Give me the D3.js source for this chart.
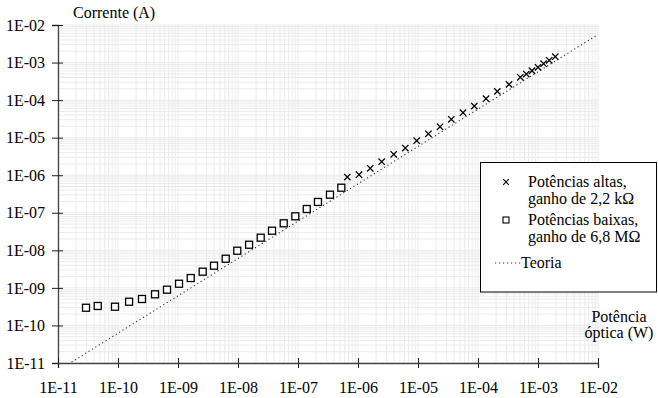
<!DOCTYPE html>
<html>
<head>
<meta charset="utf-8">
<script src="https://cdn.jsdelivr.net/npm/d3@7"></script>
<style>
  body { margin: 0; background: #fff; }
</style>
</head>
<body>
<svg width="658" height="398"></svg>
<script>
// data
const decades = [1e-11, 1e-10, 1e-9, 1e-8, 1e-7, 1e-6, 1e-5, 1e-4, 1e-3, 1e-2];
const tickLabels = ["1E-11", "1E-10", "1E-09", "1E-08", "1E-07", "1E-06", "1E-05", "1E-04", "1E-03", "1E-02"];

// potencias baixas (squares)
const lowP = [2.93e-11, 4.59e-11, 8.91e-11, 1.53e-10, 2.51e-10, 4.14e-10, 6.56e-10, 1.04e-9, 1.63e-9, 2.58e-9,
  3.98e-9, 6.24e-9, 9.73e-9, 1.53e-8, 2.39e-8, 3.69e-8, 5.78e-8, 9.02e-8, 1.40e-7, 2.15e-7, 3.41e-7, 5.27e-7];
const lowI = [2.96e-10, 3.30e-10, 3.15e-10, 4.28e-10, 5.06e-10, 6.75e-10, 8.95e-10, 1.29e-9, 1.83e-9, 2.70e-9,
  3.90e-9, 5.98e-9, 9.77e-9, 1.41e-8, 2.17e-8, 3.33e-8, 5.24e-8, 8.05e-8, 1.26e-7, 1.94e-7, 3.03e-7, 4.65e-7];

// potencias altas (crosses)
const highP = [6.63e-7, 1.04e-6, 1.60e-6, 2.48e-6, 3.94e-6, 6.14e-6, 9.51e-6, 1.49e-5, 2.33e-5, 3.59e-5, 5.62e-5,
  8.68e-5, 1.36e-4, 2.10e-4, 3.29e-4, 5.07e-4, 6.38e-4, 7.94e-4, 1.0e-3, 1.24e-3, 1.54e-3, 1.94e-3];
const highI = [8.95e-7, 1.03e-6, 1.53e-6, 2.29e-6, 3.60e-6, 5.30e-6, 8.30e-6, 1.27e-5, 1.95e-5, 3.08e-5, 4.61e-5,
  6.95e-5, 1.09e-4, 1.71e-4, 2.63e-4, 4.04e-4, 4.94e-4, 6.05e-4, 7.46e-4, 9.31e-4, 1.15e-3, 1.43e-3];

// teoria (straight line)
const theoryP = [1e-11, 1e-2];
const theoryI = [6.3e-12, 5.6e-3];

const serif = "Liberation Serif, DejaVu Serif, serif";
const svg = d3.select("svg");
const x0 = 58, x1 = 598, y0 = 25, y1 = 363;

const x = d3.scaleLog().domain([1e-11, 1e-2]).range([x0, x1]);
const y = d3.scaleLog().domain([1e-11, 1e-2]).range([y1, y0]);

// minor grid values: 1..9 for each decade
const gridVals = [];
decades.forEach(d => {
  for (let k = 1; k < 10; k++) if (d * k <= 1e-2 * 1.0001) gridVals.push(d * k);
});

const grid = svg.append("g").attr("stroke", "#ebebeb").attr("stroke-width", 1);
grid.selectAll(".gv").data(gridVals).join("line").attr("class", "gv")
  .attr("x1", d => x(d)).attr("x2", d => x(d))
  .attr("y1", y0).attr("y2", y1);
grid.selectAll(".gh").data(gridVals).join("line").attr("class", "gh")
  .attr("y1", d => y(d)).attr("y2", d => y(d))
  .attr("x1", x0).attr("x2", x1);

// clip for the theory line
svg.append("clipPath").attr("id", "plot")
  .append("rect").attr("x", x0).attr("y", y0).attr("width", x1 - x0).attr("height", y1 - y0);

const line = d3.line().x(d => x(d[0])).y(d => y(d[1]));
svg.append("path")
  .datum(theoryP.map((p, i) => [p, theoryI[i]]))
  .attr("clip-path", "url(#plot)")
  .attr("fill", "none")
  .attr("stroke", "#333")
  .attr("stroke-width", 1.1)
  .attr("stroke-dasharray", "1.2,2.8")
  .attr("d", line);

// axes
const fmt = d => tickLabels[decades.indexOf(d)];
const yAxis = svg.append("g")
  .attr("transform", "translate(" + x0 + ",0)")
  .call(d3.axisLeft(y).tickValues(decades).tickFormat(fmt).tickSize(6).tickPadding(7));
yAxis.selectAll(".tick line").attr("x1", 5);
const xAxis = svg.append("g")
  .attr("transform", "translate(0," + y1 + ")")
  .call(d3.axisBottom(x).tickValues(decades).tickFormat(fmt).tickSize(5).tickPadding(14));
xAxis.selectAll(".tick line").attr("y1", -5);

[yAxis, xAxis].forEach(a => {
  a.attr("font-family", serif).attr("font-size", 16);
  a.select(".domain").attr("stroke", "#444").attr("stroke-width", 1.3);
  a.selectAll(".tick line").attr("stroke", "#222");
  a.selectAll("text").attr("fill", "#000");
});

// markers
svg.append("g").selectAll("rect").data(lowP).join("rect")
  .attr("x", (d, i) => x(d) - 3.5).attr("y", (d, i) => y(lowI[i]) - 3.5)
  .attr("width", 7).attr("height", 7)
  .attr("fill", "#fff").attr("stroke", "#000").attr("stroke-width", 1.3);

const cross = d3.symbol().type(d3.symbolX).size(28);
svg.append("g").selectAll("path").data(highP).join("path")
  .attr("transform", (d, i) => "translate(" + x(d) + "," + y(highI[i]) + ")")
  .attr("d", cross)
  .attr("fill", "none").attr("stroke", "#000").attr("stroke-width", 1.3);

// axis titles
const title = svg.append("g").attr("font-family", serif).attr("font-size", 16);
title.append("text").attr("x", 73).attr("y", 18).text("Corrente (A)");
title.append("text").attr("x", 619).attr("y", 322).attr("text-anchor", "middle").text("Potência");
title.append("text").attr("x", 619).attr("y", 338).attr("text-anchor", "middle").text("óptica (W)");

// legend
const lg = svg.append("g").attr("font-family", serif).attr("font-size", 16);
lg.append("rect").attr("x", 480.5).attr("y", 162.5).attr("width", 176).attr("height", 129.5)
  .attr("fill", "#fff").attr("stroke", "#000").attr("stroke-width", 1);
lg.append("path").attr("transform", "translate(506,182)").attr("d", d3.symbol().type(d3.symbolX).size(22))
  .attr("fill", "none").attr("stroke", "#000").attr("stroke-width", 1.1);
lg.append("text").attr("x", 528).attr("y", 187).text("Potências altas,");
lg.append("text").attr("x", 528).attr("y", 204).text("ganho de 2,2 kΩ");
lg.append("rect").attr("x", 503).attr("y", 217).attr("width", 6).attr("height", 6)
  .attr("fill", "#fff").attr("stroke", "#000").attr("stroke-width", 1.1);
lg.append("text").attr("x", 528).attr("y", 225).text("Potências baixas,");
lg.append("text").attr("x", 528).attr("y", 242).text("ganho de 6,8 MΩ");
lg.append("line").attr("x1", 495).attr("x2", 521).attr("y1", 263).attr("y2", 263)
  .attr("stroke", "#333").attr("stroke-width", 1.1).attr("stroke-dasharray", "1.2,2.8");
lg.append("text").attr("x", 521).attr("y", 268).text("Teoria");
</script>
</body>
</html>
